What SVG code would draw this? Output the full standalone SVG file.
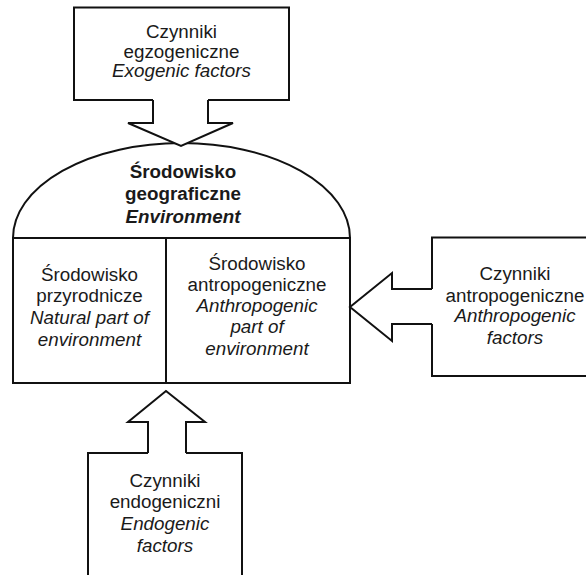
<svg xmlns="http://www.w3.org/2000/svg" width="586" height="575" viewBox="0 0 586 575">
<style>
.box{fill:#fff;stroke:#111;stroke-width:2}
.line{fill:none;stroke:#111;stroke-width:2}
.fill{fill:#fff;stroke:none}
text{font-family:"Liberation Sans",Arial,sans-serif;font-size:18.8px;fill:#1a1a1a;text-anchor:middle}
.b{font-weight:bold;font-size:18.8px}
.i{font-style:italic}
</style>
<rect width="586" height="575" fill="#fff"/>
<g id="environment">
<path class="box" d="M13,238 A168.5,95 0 0 1 350,238 Z"/>
<rect class="box" x="13" y="238" width="337" height="145"/>
<line class="line" x1="166" y1="238" x2="166" y2="383"/>
<text class="b" x="183" y="178">Środowisko</text>
<text class="b" x="183" y="200">geograficzne</text>
<text class="b i" x="183" y="223">Environment</text>
</g>
<g id="natural">
<text x="89.5" y="281">Środowisko</text>
<text x="89.5" y="302">przyrodnicze</text>
<text class="i" x="89.5" y="324">Natural part of</text>
<text class="i" x="89.5" y="346">environment</text>
</g>
<g id="anthropogenic">
<text x="257" y="270">Środowisko</text>
<text x="257" y="291">antropogeniczne</text>
<text class="i" x="257" y="312">Anthropogenic</text>
<text class="i" x="257" y="333">part of</text>
<text class="i" x="257" y="355">environment</text>
</g>
<g id="exogenic">
<rect class="box" x="74" y="7.5" width="215" height="92.5"/>
<text x="181.5" y="38">Czynniki</text>
<text x="181.5" y="57.5">egzogeniczne</text>
<text class="i" x="181.5" y="77">Exogenic factors</text>
</g>
<g id="anthropogenic-factors">
<rect class="box" x="432" y="237.5" width="160" height="138.5"/>
<text x="515" y="280">Czynniki</text>
<text x="515" y="302">antropogeniczne</text>
<text class="i" x="515" y="322">Anthropogenic</text>
<text class="i" x="515" y="344">factors</text>
</g>
<g id="endogenic">
<rect class="box" x="88" y="453" width="154" height="130"/>
<text x="165" y="487">Czynniki</text>
<text x="165" y="508">endogeniczni</text>
<text class="i" x="165" y="530">Endogenic</text>
<text class="i" x="165" y="552">factors</text>
</g>
<g id="connectors">
<polygon class="fill" points="153,98 153,123 128,123 181,146 233,123 208,123 208,98"/>
<polyline class="line" points="153,100 153,123 128,123 181,146 233,123 208,123 208,100"/>
<polygon class="fill" points="434,289 392,289 392,273 350,307 392,341 392,324 434,324"/>
<polyline class="line" points="432,289 392,289 392,273 350,307 392,341 392,324 432,324"/>
<polygon class="fill" points="148,455 148,422 128,422 166,391 205,422 186,422 186,455"/>
<polyline class="line" points="148,453 148,422 128,422 166,391 205,422 186,422 186,453"/>
</g>
</svg>
